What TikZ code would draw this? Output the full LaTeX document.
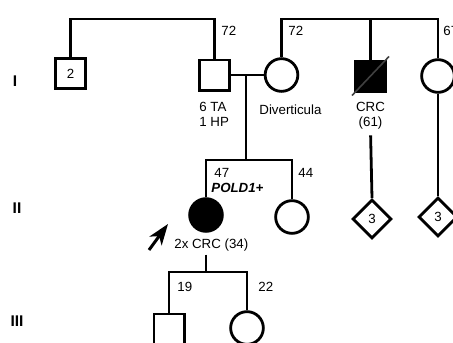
\documentclass[tikz,border=0pt]{standalone}
\usepackage{fontspec}
\setmainfont{Liberation Sans}
\usepackage{tikz}
\usetikzlibrary{positioning, arrows.meta, shapes.geometric}

\begin{document}
\begin{tikzpicture}[
    x=1pt, y=-1pt,
    line width=2.8pt,
    male/.style={rectangle, draw, minimum size=30.2pt, inner sep=0pt},
    female/.style={circle, draw, minimum size=32.7pt, inner sep=0pt},
    unknown/.style={diamond, draw, minimum size=39pt, inner sep=0pt},
    affected/.style={fill=black},
    lbl/.style={inner sep=0pt, font=\fontsize{13.3}{15}\selectfont},
    gen/.style={inner sep=0pt, font=\fontsize{15.5}{18}\selectfont\bfseries},
    pointer/.style={-{Stealth[length=21pt, width=15pt, inset=6pt]}, line width=3pt}
]
\useasboundingbox (0,0) rectangle (453,343);

% generation numbers
\node[gen] (genI) at (15,81) {I};
\node[gen] (genII) at (17,208) {II};
\node[gen] (genIII) at (17,321) {III};

% generation I
\node[male] (uncle) at (70.5,73.5) {\fontsize{13.3}{15}\selectfont 2};
\node[male] (father) at (214.5,75) {};
\node[female] (mother) at (281.5,75) {};
\node[male, affected] (uncleB) at (370.5,76) {};
\node[female] (aunt) at (438,76) {};
\draw[line width=1.6pt, black!75] ([shift={(-2,3)}]uncleB.south west) -- ([shift={(2,-3)}]uncleB.north east);

\coordinate (sibA) at (142,19);
\coordinate (sibB) at (360,19);
\coordinate (mid) at (246,75);

\draw (uncle.north) |- (sibA) -| (father.north);
\draw (mother.north) |- (sibB) -| (aunt.north);
\draw (uncleB.north) -- (uncleB.north |- sibB);
\draw (father.east) -- (mother.west);

\node[lbl, anchor=west] (ageF) at (220,31) {72};
\node[lbl, anchor=west] (ageM) at (287,31) {72};
\node[lbl, anchor=west] (ageA) at (442,31) {67};
\node[lbl, anchor=north west, align=left] (polyp) at (198,101) {6 TA\\1 HP};
\node[lbl, anchor=west] (divert) at (258,110) {Diverticula};
\node[lbl, below=8pt of uncleB, align=center] (crc) {CRC\\(61)};

% generation II
\node[female, affected] (proband) at (206,215) {};
\node[female] (sister) at (292,217) {};
\node[unknown] (sibsA) at (372,219) {\fontsize{13.3}{15}\selectfont 3};
\node[unknown] (sibsB) at (438,217) {\fontsize{13.3}{15}\selectfont 3};

\coordinate (sibC) at (246,160);
\draw (mid) -- (sibC);
\draw (proband.north) |- (sibC) -| (sister.north);
\draw[shorten <=5pt] (crc.south) -- (sibsA.north);
\draw (aunt.south) -- (sibsB.north);

\node[lbl, anchor=west] (ageP) at (213,173) {47};
\node[lbl, anchor=west] (gene) at (210,188) {\bfseries\itshape POLD1+};
\node[lbl, anchor=west] (ageS) at (297,173) {44};
\node[lbl, anchor=west] (diag) at (173,245) {2x CRC (34)};

\coordinate (ptrTail) at (149,250);
\coordinate (ptrTip) at (168,224);
\draw[pointer] (ptrTail) -- (ptrTip);

% generation III
\node[male] (son) at (169,329) {};
\node[female] (daughter) at (247,328) {};

\coordinate (sibD) at (206,272);
\draw[shorten <=2pt] (diag.south -| proband.south) -- (sibD);
\draw (son.north) |- (sibD) -| (daughter.north);

\node[lbl, anchor=west] (ageSon) at (176,287) {19};
\node[lbl, anchor=west] (ageDau) at (257,287) {22};
\end{tikzpicture}
\end{document}
